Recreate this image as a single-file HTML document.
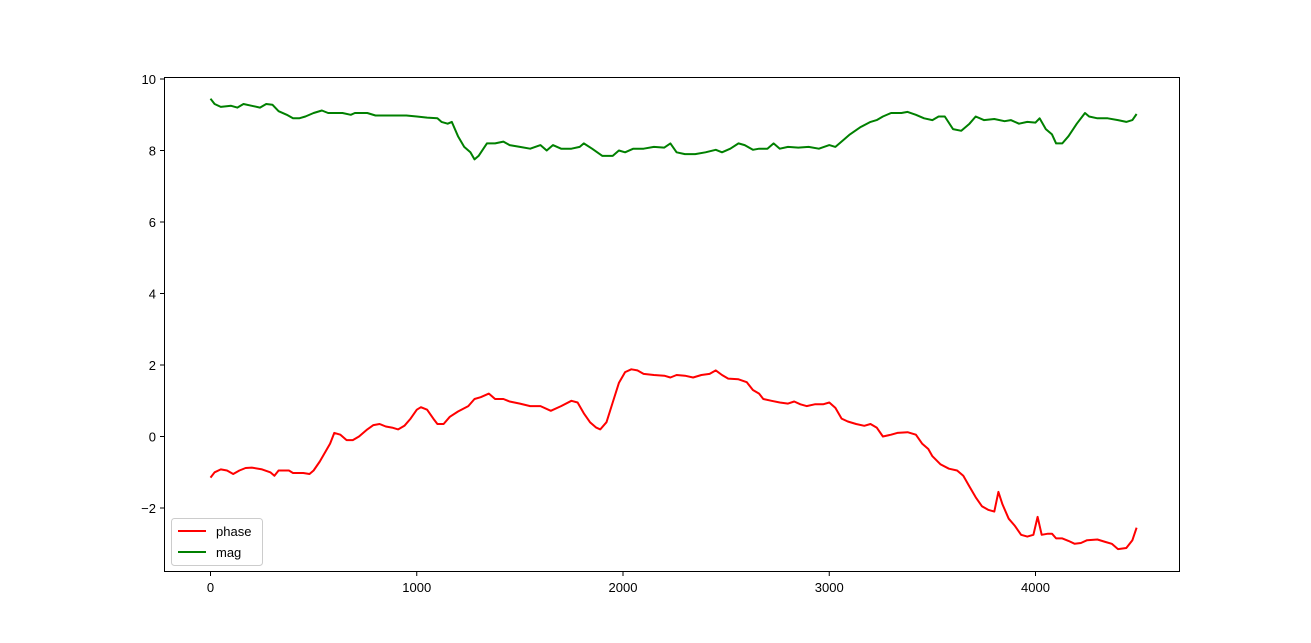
<!DOCTYPE html>
<html><head><meta charset="utf-8"><style>
body{margin:0;background:#fff;}
svg{display:block;font-family:"Liberation Sans","DejaVu Sans",sans-serif;}
</style></head><body>
<svg id="chart" width="1311" height="643" xmlns="http://www.w3.org/2000/svg">
<rect x="0" y="0" width="1311" height="643" fill="#fff"/>
<g id="marks"></g>
<rect x="164.5" y="77.5" width="1015" height="494" fill="none" stroke="#000" stroke-width="1"/>
<g id="xticks"></g><g id="yticks"></g>
<g>
<rect x="171.5" y="518.5" width="91" height="47" rx="3" fill="#fff" fill-opacity="0.8" stroke="#ccc"/>
<line x1="178" y1="531" x2="206" y2="531" stroke="red" stroke-width="2"/>
<text x="216" y="536" font-size="13">phase</text>
<line x1="178" y1="552" x2="206" y2="552" stroke="green" stroke-width="2"/>
<text x="216" y="557" font-size="13">mag</text>
</g>
</svg>
<script>
const phaseX=[0,20,50,80,110,140,170,200,250,290,310,330,380,400,450,480,500,530,560,580,600,630,660,690,720,760,790,820,850,880,910,940,970,1000,1020,1050,1080,1100,1130,1160,1200,1250,1280,1310,1350,1380,1420,1450,1500,1550,1600,1650,1700,1750,1780,1810,1840,1870,1890,1920,1950,1980,2010,2040,2070,2100,2150,2200,2230,2260,2300,2340,2380,2420,2450,2480,2510,2560,2600,2630,2660,2680,2720,2760,2800,2830,2860,2890,2930,2970,3000,3030,3060,3090,3130,3170,3200,3230,3260,3300,3330,3380,3420,3450,3480,3500,3540,3580,3620,3650,3680,3710,3740,3770,3800,3820,3840,3870,3900,3930,3960,3990,4010,4030,4060,4080,4100,4130,4160,4190,4220,4250,4300,4340,4370,4400,4440,4470,4490];
const phaseY=[-1.15,-1.0,-0.92,-0.95,-1.05,-0.95,-0.88,-0.87,-0.92,-1.0,-1.1,-0.95,-0.95,-1.02,-1.02,-1.05,-0.95,-0.7,-0.4,-0.2,0.1,0.05,-0.1,-0.1,0.0,0.2,0.32,0.35,0.28,0.25,0.2,0.3,0.5,0.75,0.82,0.75,0.5,0.35,0.35,0.55,0.7,0.85,1.05,1.1,1.2,1.05,1.05,0.98,0.92,0.85,0.85,0.72,0.85,1.0,0.95,0.65,0.4,0.25,0.2,0.4,0.95,1.5,1.8,1.88,1.85,1.75,1.72,1.7,1.65,1.72,1.7,1.65,1.72,1.75,1.85,1.72,1.62,1.6,1.52,1.3,1.2,1.05,1.0,0.95,0.92,0.98,0.9,0.85,0.9,0.9,0.95,0.8,0.5,0.42,0.35,0.3,0.35,0.25,0.0,0.05,0.1,0.12,0.05,-0.2,-0.35,-0.55,-0.78,-0.9,-0.95,-1.1,-1.4,-1.7,-1.95,-2.05,-2.1,-1.55,-1.9,-2.3,-2.5,-2.75,-2.8,-2.75,-2.25,-2.75,-2.72,-2.72,-2.85,-2.85,-2.92,-3.0,-2.98,-2.9,-2.88,-2.95,-3.0,-3.15,-3.12,-2.9,-2.55];
const magX=[0,20,50,100,130,160,200,240,270,300,330,370,400,430,460,500,540,570,600,640,680,700,760,800,850,900,950,1000,1050,1100,1120,1150,1170,1200,1230,1260,1280,1300,1340,1380,1420,1450,1500,1550,1600,1630,1660,1700,1750,1790,1810,1850,1900,1950,1980,2010,2050,2100,2150,2200,2230,2260,2300,2350,2400,2450,2480,2520,2560,2590,2630,2660,2700,2730,2760,2800,2850,2900,2950,3000,3030,3070,3100,3150,3200,3230,3260,3300,3350,3380,3420,3460,3500,3530,3560,3600,3640,3680,3710,3750,3800,3850,3880,3920,3960,4000,4020,4050,4080,4100,4130,4160,4200,4240,4260,4300,4350,4400,4440,4470,4490];
const magY=[9.45,9.3,9.22,9.25,9.2,9.3,9.25,9.2,9.3,9.28,9.1,9.0,8.9,8.9,8.95,9.05,9.12,9.05,9.05,9.05,9.0,9.05,9.05,8.98,8.98,8.98,8.98,8.95,8.92,8.9,8.8,8.75,8.8,8.4,8.1,7.95,7.75,7.85,8.2,8.2,8.25,8.15,8.1,8.05,8.15,8.0,8.15,8.05,8.05,8.1,8.2,8.05,7.85,7.85,8.0,7.95,8.05,8.05,8.1,8.08,8.2,7.95,7.9,7.9,7.95,8.02,7.95,8.05,8.2,8.15,8.02,8.05,8.05,8.2,8.05,8.1,8.08,8.1,8.05,8.15,8.1,8.3,8.45,8.65,8.8,8.85,8.95,9.05,9.05,9.08,9.0,8.9,8.85,8.95,8.95,8.6,8.55,8.75,8.95,8.85,8.88,8.82,8.85,8.75,8.8,8.78,8.9,8.6,8.45,8.2,8.2,8.4,8.75,9.05,8.95,8.9,8.9,8.85,8.8,8.85,9.02];
const xTicks=[0,1000,2000,3000,4000];
const yTicks=[-2,0,2,4,6,8,10];
const NS="http://www.w3.org/2000/svg";
function sx(v){return 210.5+v*0.20625;}
function sy(v){return 436.5-v*35.75;}
const marks=document.getElementById('marks');
function line(xs,ys,color,name){
  const p=document.createElementNS(NS,'polyline');
  p.setAttribute('points',xs.map((x,i)=>sx(x).toFixed(1)+','+sy(ys[i]).toFixed(1)).join(' '));
  p.setAttribute('fill','none');p.setAttribute('stroke',color);p.setAttribute('stroke-width','2');
  p.setAttribute('stroke-linejoin','round');
  
  
  marks.appendChild(p);
}
line(phaseX,phaseY,'red','phase-line');
line(magX,magY,'green','mag-line');
const xg=document.getElementById('xticks');
xTicks.forEach(t=>{
  const x=sx(t);
  const l=document.createElementNS(NS,'line');
  l.setAttribute('x1',x);l.setAttribute('x2',x);l.setAttribute('y1',572);l.setAttribute('y2',576);l.setAttribute('stroke','#000');
  
  
  xg.appendChild(l);
  const tx=document.createElementNS(NS,'text');
  tx.setAttribute('x',x);tx.setAttribute('y',592);tx.setAttribute('text-anchor','middle');tx.setAttribute('font-size','13');
  tx.textContent=t;
  
  
  xg.appendChild(tx);
});
const yg=document.getElementById('yticks');
yTicks.forEach(t=>{
  const y=sy(t);
  const l=document.createElementNS(NS,'line');
  l.setAttribute('x1',160);l.setAttribute('x2',164);l.setAttribute('y1',y);l.setAttribute('y2',y);l.setAttribute('stroke','#000');
  
  
  yg.appendChild(l);
  const tx=document.createElementNS(NS,'text');
  tx.setAttribute('x',156);tx.setAttribute('y',y+5);tx.setAttribute('text-anchor','end');tx.setAttribute('font-size','13');
  tx.textContent=t<0?'\u2212'+(-t):String(t);
  
  
  yg.appendChild(tx);
});
</script>
</body></html>
